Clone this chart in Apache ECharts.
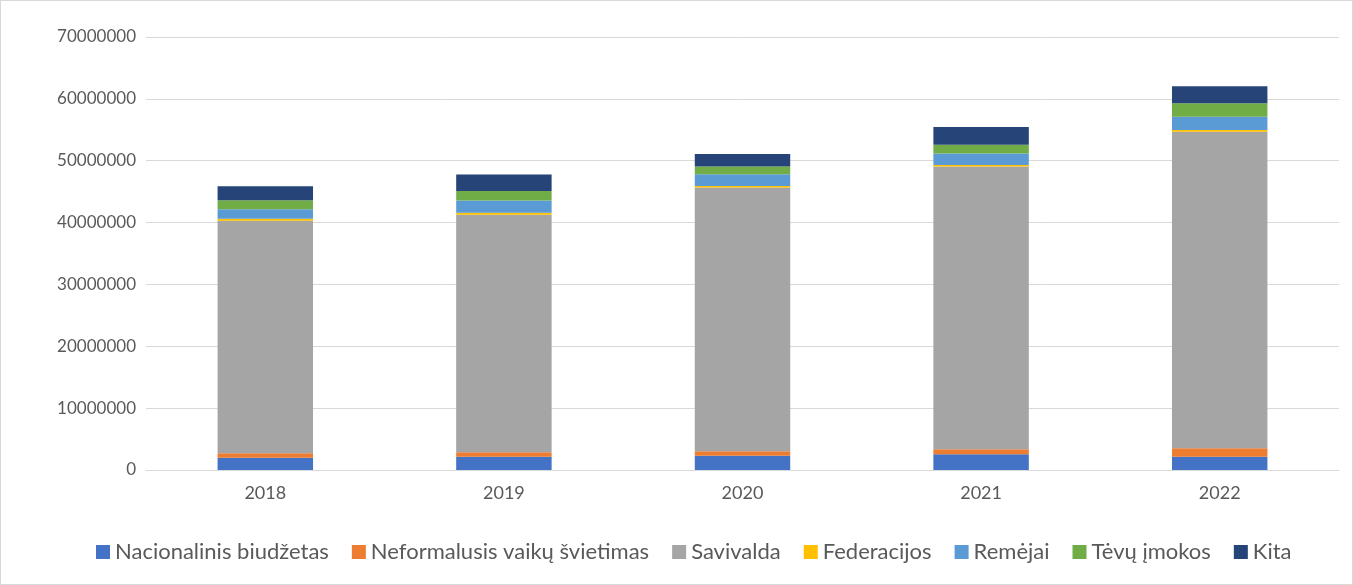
<!DOCTYPE html>
<html>
<head>
<meta charset="utf-8">
<script src="https://cdn.jsdelivr.net/npm/echarts@6/dist/echarts.min.js"></script>
<style>
  html, body { margin: 0; padding: 0; background: #fff; }
  #chart { width: 1351px; height: 583px; border: 1px solid #d9d9d9; }
</style>
</head>
<body>
<div id="chart"></div>
<script>
// Funding sources per year (EUR)
const years = ['2018', '2019', '2020', '2021', '2022'];
const nacionalinis = [2000000, 2150000, 2300000, 2550000, 2150000];
const neformalusis = [700000, 700000, 750000, 800000, 1350000];
const savivalda = [37600000, 38400000, 42600000, 45700000, 51200000];
const federacijos = [320000, 320000, 270000, 270000, 270000];
const remejai = [1520000, 2000000, 1900000, 1830000, 2150000];
const tevuImokos = [1450000, 1550000, 1230000, 1450000, 2170000];
const kita = [2300000, 2650000, 2050000, 2850000, 2750000];
const yTicks = [0, 10000000, 20000000, 30000000, 40000000, 50000000, 60000000, 70000000];

const seriesDefs = [
  ['Nacionalinis biudžetas', nacionalinis, '#4472C4'],
  ['Neformalusis vaikų švietimas', neformalusis, '#ED7D31'],
  ['Savivalda', savivalda, '#A5A5A5'],
  ['Federacijos', federacijos, '#FFC000'],
  ['Remėjai', remejai, '#5B9BD5'],
  ['Tėvų įmokos', tevuImokos, '#70AD47'],
  ['Kita', kita, '#264478']
];

const chart = echarts.init(document.getElementById('chart'));
chart.setOption({
  animation: false,
  textStyle: { fontFamily: 'Lato, "Noto Sans", sans-serif' },
  grid: { left: 145, right: 13, top: 36, bottom: 114 },
  legend: {
    bottom: 16,
    left: 90,
    itemWidth: 14,
    itemHeight: 14,
    itemGap: 23,
    icon: 'rect',
    textStyle: { color: '#595959', fontSize: 22, fontFamily: 'Lato, sans-serif' },
    data: seriesDefs.map(d => d[0])
  },
  xAxis: {
    type: 'category',
    data: years,
    axisLine: { lineStyle: { color: '#d9d9d9', width: 1 } },
    axisTick: { show: false },
    axisLabel: { color: '#595959', fontSize: 18, margin: 14 }
  },
  yAxis: {
    type: 'value',
    min: yTicks[0],
    max: yTicks[yTicks.length - 1],
    interval: 10000000,
    axisLine: { show: false },
    axisTick: { show: false },
    splitLine: { lineStyle: { color: '#d9d9d9', width: 1 } },
    axisLabel: { color: '#595959', fontSize: 17, margin: 10, formatter: v => String(v) }
  },
  series: seriesDefs.map(([name, values, color]) => ({
    name,
    type: 'bar',
    stack: 'total',
    data: values,
    barWidth: '40%',
    itemStyle: { color }
  }))
});
</script>
</body>
</html>
